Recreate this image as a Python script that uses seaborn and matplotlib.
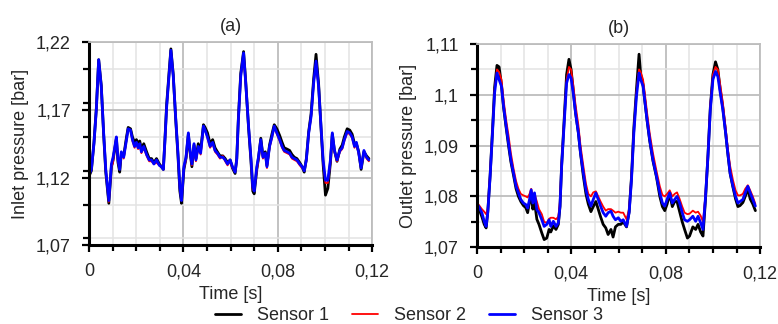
import numpy as np
import pandas as pd
import matplotlib
matplotlib.use("Agg")
import matplotlib.pyplot as plt
from matplotlib.ticker import FuncFormatter, MultipleLocator, FixedLocator
import seaborn as sns

sensors = ["Sensor 1", "Sensor 2", "Sensor 3"]
colors = ["#000000", "#ff0000", "#0000ff"]
panel_titles = ["(a)", "(b)"]
y_labels = ["Inlet pressure [bar]", "Outlet pressure [bar]"]
x_label = "Time [s]"

t_in = [0, .001, .0021, .0031, .0041, .0052, .0062, .0071, .0084, .0095,
        .0102, .0109, .0116, .0123, .0130, .0137, .0147, .0159, .0166, .0176,
        .0184, .0193, .0201, .0208, .0215, .0222, .0232, .0244, .0255, .0265,
        .0275, .0286, .0298, .0307, .0315, .0322, .0329, .0339, .0347, .0357,
        .0367, .0377, .0385, .0392, .0402, .0411, .0421, .0428, .0436, .0445,
        .0453, .0463, .0473, .0485, .0492, .0502, .0513, .0524, .0534, .0544,
        .0555, .0567, .0577, .0587, .0598, .0608, .0619, .0626, .0633, .0643,
        .0655, .0664, .0676, .0686, .0694, .0700, .0711, .0718, .0728, .0737,
        .0747, .0754, .0765, .0775, .0785, .0796, .0808, .0818, .0827, .0839,
        .0850, .0860, .0870, .0881, .0893, .0903, .0912, .0921, .0931, .0941,
        .0952, .0962, .0973, .0983, .0992, .1002, .1012, .1023, .1031, .1040,
        .1051, .1063, .1073, .1082, .1094, .1105, .1115, .1125, .1133, .1143,
        .1153, .1165, .1176, .1186]

inlet_s1 = [1.121, 1.125, 1.146, 1.171, 1.207, 1.188, 1.152, 1.124, 1.101, 1.128,
            1.133, 1.141, 1.149, 1.131, 1.124, 1.138, 1.136, 1.150, 1.157, 1.156,
            1.150, 1.146, 1.148, 1.145, 1.147, 1.141, 1.145, 1.139, 1.134, 1.134,
            1.131, 1.134, 1.130, 1.128, 1.126, 1.149, 1.174, 1.197, 1.215, 1.196,
            1.164, 1.136, 1.110, 1.101, 1.126, 1.134, 1.152, 1.139, 1.128, 1.144,
            1.134, 1.145, 1.140, 1.159, 1.157, 1.153, 1.145, 1.148, 1.142, 1.139,
            1.136, 1.136, 1.134, 1.131, 1.133, 1.127, 1.123, 1.134, 1.164, 1.197,
            1.213, 1.191, 1.157, 1.133, 1.110, 1.108, 1.126, 1.134, 1.149, 1.136,
            1.139, 1.129, 1.144, 1.152, 1.159, 1.156, 1.151, 1.146, 1.142, 1.141,
            1.140, 1.137, 1.135, 1.134, 1.131, 1.128, 1.124, 1.134, 1.154, 1.167,
            1.193, 1.211, 1.189, 1.157, 1.130, 1.107, 1.112, 1.131, 1.152, 1.140,
            1.132, 1.141, 1.144, 1.150, 1.156, 1.155, 1.152, 1.145, 1.145, 1.139,
            1.126, 1.139, 1.136, 1.134]

inlet_s2 = [1.122, 1.126, 1.145, 1.170, 1.206, 1.187, 1.153, 1.125, 1.102, 1.128,
            1.131, 1.142, 1.150, 1.132, 1.126, 1.138, 1.134, 1.148, 1.156, 1.155,
            1.147, 1.142, 1.145, 1.141, 1.144, 1.138, 1.142, 1.136, 1.132, 1.132,
            1.130, 1.131, 1.129, 1.128, 1.126, 1.148, 1.172, 1.195, 1.213, 1.195,
            1.165, 1.137, 1.112, 1.103, 1.127, 1.133, 1.152, 1.139, 1.129, 1.144,
            1.132, 1.142, 1.137, 1.157, 1.155, 1.149, 1.142, 1.145, 1.139, 1.137,
            1.134, 1.136, 1.132, 1.129, 1.132, 1.127, 1.124, 1.133, 1.163, 1.195,
            1.211, 1.190, 1.158, 1.134, 1.111, 1.111, 1.125, 1.133, 1.147, 1.134,
            1.137, 1.127, 1.142, 1.149, 1.157, 1.152, 1.147, 1.142, 1.139, 1.138,
            1.137, 1.134, 1.133, 1.132, 1.129, 1.127, 1.125, 1.132, 1.153, 1.165,
            1.190, 1.205, 1.187, 1.158, 1.132, 1.116, 1.116, 1.131, 1.152, 1.139,
            1.132, 1.139, 1.141, 1.147, 1.153, 1.152, 1.149, 1.142, 1.145, 1.137,
            1.127, 1.139, 1.134, 1.132]

inlet_s3 = [1.122, 1.126, 1.145, 1.170, 1.207, 1.187, 1.153, 1.126, 1.103, 1.130,
            1.135, 1.142, 1.150, 1.133, 1.126, 1.139, 1.135, 1.148, 1.156, 1.155,
            1.148, 1.143, 1.146, 1.142, 1.145, 1.139, 1.143, 1.137, 1.133, 1.133,
            1.130, 1.133, 1.129, 1.128, 1.126, 1.148, 1.172, 1.195, 1.214, 1.195,
            1.165, 1.138, 1.113, 1.103, 1.128, 1.135, 1.153, 1.140, 1.130, 1.145,
            1.133, 1.143, 1.138, 1.158, 1.155, 1.150, 1.143, 1.146, 1.140, 1.138,
            1.135, 1.135, 1.133, 1.130, 1.133, 1.128, 1.124, 1.133, 1.163, 1.195,
            1.212, 1.190, 1.158, 1.135, 1.113, 1.110, 1.128, 1.135, 1.148, 1.135,
            1.138, 1.128, 1.143, 1.150, 1.158, 1.153, 1.148, 1.143, 1.140, 1.139,
            1.138, 1.135, 1.134, 1.133, 1.130, 1.128, 1.125, 1.133, 1.153, 1.165,
            1.190, 1.206, 1.187, 1.158, 1.133, 1.118, 1.118, 1.133, 1.153, 1.140,
            1.133, 1.140, 1.142, 1.148, 1.154, 1.153, 1.150, 1.143, 1.146, 1.138,
            1.127, 1.140, 1.135, 1.133]

t_out = [0, .0007, .0021, .0031, .0039, .0046, .0056, .0066, .0075, .0085,
         .0094, .0104, .0113, .0124, .0134, .0144, .0155, .0166, .0176, .0186,
         .0197, .0207, .0215, .0223, .0230, .0237, .0244, .0254, .0263, .0275,
         .0285, .0296, .0306, .0313, .0324, .0335, .0345, .0352, .0359, .0369,
         .0380, .0390, .0399, .0408, .0418, .0430, .0439, .0451, .0462, .0472,
         .0483, .0493, .0504, .0514, .0524, .0535, .0546, .0556, .0568, .0577,
         .0587, .0599, .0610, .0620, .0634, .0645, .0655, .0665, .0676, .0687,
         .0694, .0704, .0711, .0721, .0732, .0746, .0761, .0775, .0786, .0796,
         .0806, .0817, .0828, .0838, .0848, .0859, .0870, .0880, .0892, .0901,
         .0915, .0927, .0937, .0948, .0958, .0968, .0979, .0989, .1000, .1011,
         .1021, .1031, .1042, .1054, .1063, .1073, .1085, .1096, .1106, .1115,
         .1127, .1137, .1148, .1158, .1169, .1180]

outlet_s1 = [1.0785, 1.0778, 1.0760, 1.0745, 1.0738, 1.0770, 1.0842, 1.0930, 1.1015, 1.1058,
             1.1055, 1.1020, 1.0975, 1.0935, 1.0900, 1.0868, 1.0842, 1.0815, 1.0800, 1.0790,
             1.0782, 1.0778, 1.0768, 1.0790, 1.0800, 1.0775, 1.0790, 1.0755, 1.0745, 1.0728,
             1.0715, 1.0718, 1.0735, 1.0730, 1.0742, 1.0735, 1.0745, 1.0780, 1.0862, 1.0945,
             1.1040, 1.1070, 1.1050, 1.1010, 1.0965, 1.0925, 1.0885, 1.0840, 1.0805, 1.0785,
             1.0770, 1.0780, 1.0790, 1.0775, 1.0760, 1.0745, 1.0738, 1.0725, 1.0735, 1.0720,
             1.0740, 1.0745, 1.0745, 1.0750, 1.0740, 1.0770, 1.0838, 1.0935, 1.1010, 1.1080,
             1.1040, 1.1020, 1.0990, 1.0950, 1.0910, 1.0870, 1.0838, 1.0800, 1.0780, 1.0772,
             1.0785, 1.0805, 1.0780, 1.0790, 1.0790, 1.0770, 1.0750, 1.0735, 1.0718, 1.0722,
             1.0740, 1.0735, 1.0745, 1.0730, 1.0722, 1.0790, 1.0880, 1.0975, 1.1040, 1.1065,
             1.1050, 1.1010, 1.0975, 1.0925, 1.0885, 1.0845, 1.0818, 1.0795, 1.0780, 1.0782,
             1.0788, 1.0800, 1.0815, 1.0795, 1.0785, 1.0772]

outlet_s2 = [1.0780, 1.0784, 1.0775, 1.0770, 1.0765, 1.0775, 1.0845, 1.0930, 1.1010, 1.1050,
             1.1045, 1.1030, 1.0990, 1.0950, 1.0920, 1.0885, 1.0855, 1.0830, 1.0815, 1.0805,
             1.0802, 1.0800, 1.0798, 1.0805, 1.0815, 1.0800, 1.0805, 1.0790, 1.0775, 1.0765,
             1.0750, 1.0748, 1.0756, 1.0758, 1.0758, 1.0755, 1.0760, 1.0790, 1.0865, 1.0945,
             1.1030, 1.1055, 1.1050, 1.1020, 1.0980, 1.0940, 1.0900, 1.0860, 1.0825, 1.0805,
             1.0800, 1.0808, 1.0810, 1.0800, 1.0790, 1.0780, 1.0772, 1.0775, 1.0775, 1.0772,
             1.0768, 1.0770, 1.0768, 1.0768, 1.0755, 1.0775, 1.0840, 1.0930, 1.1005, 1.1050,
             1.1045, 1.1030, 1.1005, 1.0965, 1.0925, 1.0885, 1.0850, 1.0820, 1.0803, 1.0800,
             1.0805, 1.0812, 1.0800, 1.0805, 1.0808, 1.0795, 1.0780, 1.0768, 1.0765, 1.0766,
             1.0772, 1.0768, 1.0770, 1.0762, 1.0750, 1.0800, 1.0885, 1.0980, 1.1040, 1.1055,
             1.1050, 1.1020, 1.0985, 1.0935, 1.0895, 1.0860, 1.0832, 1.0812, 1.0802, 1.0802,
             1.0805, 1.0815, 1.0822, 1.0812, 1.0800, 1.0785]

outlet_s3 = [1.0774, 1.0781, 1.0768, 1.0751, 1.0741, 1.0768, 1.0840, 1.0925, 1.1004, 1.1043,
             1.1030, 1.1017, 1.0977, 1.0938, 1.0905, 1.0872, 1.0846, 1.0820, 1.0807, 1.0794,
             1.0787, 1.0784, 1.0777, 1.0794, 1.0813, 1.0787, 1.0807, 1.0774, 1.0768, 1.0754,
             1.0741, 1.0745, 1.0754, 1.0741, 1.0751, 1.0741, 1.0748, 1.0781, 1.0859, 1.0938,
             1.1023, 1.1040, 1.1033, 1.1004, 1.0964, 1.0925, 1.0886, 1.0846, 1.0813, 1.0794,
             1.0781, 1.0794, 1.0807, 1.0794, 1.0781, 1.0768, 1.0761, 1.0768, 1.0771, 1.0761,
             1.0754, 1.0758, 1.0751, 1.0754, 1.0741, 1.0768, 1.0833, 1.0925, 1.0997, 1.1043,
             1.1030, 1.1017, 1.0990, 1.0951, 1.0912, 1.0872, 1.0840, 1.0807, 1.0787, 1.0781,
             1.0794, 1.0807, 1.0787, 1.0794, 1.0800, 1.0787, 1.0768, 1.0754, 1.0751, 1.0754,
             1.0761, 1.0751, 1.0761, 1.0748, 1.0735, 1.0794, 1.0879, 1.0971, 1.1030, 1.1046,
             1.1036, 1.1004, 1.0971, 1.0925, 1.0886, 1.0846, 1.0820, 1.0800, 1.0787, 1.0790,
             1.0794, 1.0807, 1.0820, 1.0807, 1.0794, 1.0781]

x_ticks = [0, 0.04, 0.08, 0.12]
in_ticks = [1.07, 1.12, 1.17, 1.22]
out_ticks = [1.07, 1.08, 1.09, 1.10, 1.11]

sns.set_theme(style="white")
plt.rcParams['font.family'] = ['Liberation Sans', 'DejaVu Sans']

FS = 13

fig = plt.figure(figsize=(7.78, 3.24), dpi=100)
ax1 = fig.add_axes([0.1144, 0.243, 0.364, 0.627])
ax2 = fig.add_axes([0.613, 0.237, 0.364, 0.627])

def comma(v, pos):
    s = f"{round(v, 4):g}"
    return s.replace('.', ',')

def build(t, series):
    frames = []
    for name, vals in zip(sensors, series):
        frames.append(pd.DataFrame({"t": t, "p": vals, "sensor": name}))
    return pd.concat(frames, ignore_index=True)

df_in = build(t_in, [inlet_s1, inlet_s2, inlet_s3])
df_out = build(t_out, [outlet_s1, outlet_s2, outlet_s3])

widths = [2.0, 1.3, 2.0]
for ax, df, yt, ylab, title, ymin_step in [
        (ax1, df_in, in_ticks, y_labels[0], panel_titles[0], 0.025),
        (ax2, df_out, out_ticks, y_labels[1], panel_titles[1], 0.005)]:
    for name, c, lw in zip(sensors, colors, widths):
        sub = df[df.sensor == name]
        sns.lineplot(data=sub, x="t", y="p", color=c, lw=lw, ax=ax,
                     label=name, legend=False, estimator=None, sort=False)
    ax.set_xlim(0, 0.12)
    ax.set_ylim(yt[0], yt[-1])
    ax.xaxis.set_major_locator(FixedLocator(x_ticks))
    ax.xaxis.set_minor_locator(MultipleLocator(0.01))
    ax.yaxis.set_major_locator(FixedLocator(yt))
    ax.yaxis.set_minor_locator(MultipleLocator(ymin_step))
    ax.xaxis.set_major_formatter(FuncFormatter(comma))
    ax.yaxis.set_major_formatter(FuncFormatter(comma))
    ax.grid(True, which='major', color='#bdbdbd', lw=1.3)
    ax.grid(True, which='minor', color='#e3e3e3', lw=1.1)
    ax.set_axisbelow(True)
    for s in ['left', 'bottom']:
        ax.spines[s].set_color('black')
        ax.spines[s].set_linewidth(2.2)
    for s in ['top', 'right']:
        ax.spines[s].set_color('#bdbdbd')
        ax.spines[s].set_linewidth(1.3)
    ax.tick_params(which='both', direction='out', color='black', width=1.6,
                   left=True, bottom=True, labelsize=FS)
    ax.tick_params(axis='x', which='both', pad=8)
    ax.tick_params(axis='y', which='both', pad=8)
    ax.tick_params(which='major', length=5)
    ax.tick_params(which='minor', length=4.5)
    ax.set_xlabel(x_label, fontsize=FS, labelpad=4)
    ax.set_ylabel(ylab, fontsize=FS, labelpad=5)
    ax.set_title(title, fontsize=FS, pad=8)

handles, labels = ax1.get_legend_handles_labels()
fig.legend(handles[:3], labels[:3], loc='lower center', ncol=3,
           bbox_to_anchor=(0.526, -0.033), frameon=False, fontsize=FS,
           handlelength=1.4, handletextpad=0.9, columnspacing=1.3,
           borderpad=0.1)

fig.savefig("out.png", dpi=100)
